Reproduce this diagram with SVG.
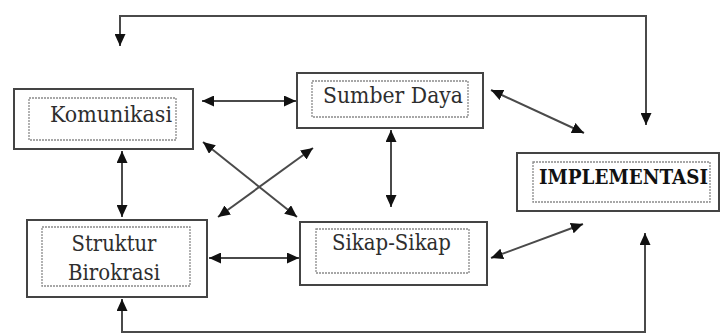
<svg xmlns="http://www.w3.org/2000/svg" width="724" height="335" viewBox="0 0 724 335">
  <style>
    .outer { fill: #ffffff; stroke: #444444; stroke-width: 2; }
    .inner { fill: none; stroke: #8a8a8a; stroke-width: 1.3; stroke-dasharray: 2 1; }
    .lbl { font-family: "DejaVu Serif", "Liberation Serif", serif; font-size: 22px; fill: #2e2e2e; text-anchor: middle; }
    .bold { font-weight: bold; fill: #111111; font-size: 20px; }
    .conn { fill: none; stroke: #4a4a4a; stroke-width: 2; marker-start: url(#ah); marker-end: url(#ah); }
  </style>
  <defs>
    <marker id="ah" markerUnits="userSpaceOnUse" markerWidth="13" markerHeight="11" refX="12" refY="5.5" orient="auto-start-reverse">
      <path d="M0,0 L12,5.5 L0,11 z" fill="#111111"/>
    </marker>
  </defs>
  <rect width="724" height="335" fill="#ffffff"/>

  <g id="connectors">
    <path class="conn" d="M120,46 V16 H646 V125"/>
    <path class="conn" d="M122,299 V332 H645 V233"/>
    <path class="conn" d="M202,101 H296"/>
    <path class="conn" d="M122,151 V217"/>
    <path class="conn" d="M391,130 V207"/>
    <path class="conn" d="M209,258 H299"/>
    <path class="conn" d="M203,142 L297,217"/>
    <path class="conn" d="M218,217 L313,148"/>
    <path class="conn" d="M491,90 L584,133"/>
    <path class="conn" d="M491,258 L583,224"/>
  </g>

  <g id="komunikasi">
    <rect class="outer" x="14" y="89" width="179" height="60"/>
    <rect class="inner" x="29" y="98" width="147" height="42"/>
    <text class="lbl" x="111" y="122" textLength="122" lengthAdjust="spacingAndGlyphs">Komunikasi</text>
  </g>

  <g id="sumber-daya">
    <rect class="outer" x="297" y="73" width="186" height="55"/>
    <rect class="inner" x="312" y="81" width="156" height="36"/>
    <text class="lbl" x="393" y="103" textLength="140" lengthAdjust="spacingAndGlyphs">Sumber Daya</text>
  </g>

  <g id="implementasi">
    <rect class="outer" x="517" y="153" width="202" height="58"/>
    <rect class="inner" x="533" y="162" width="177" height="40"/>
    <text class="lbl bold" x="623.5" y="184" textLength="169" lengthAdjust="spacingAndGlyphs">IMPLEMENTASI</text>
  </g>

  <g id="struktur-birokrasi">
    <rect class="outer" x="27" y="220" width="180" height="77"/>
    <rect class="inner" x="42" y="227" width="148" height="59"/>
    <text class="lbl" x="114" y="251" textLength="85" lengthAdjust="spacingAndGlyphs">Struktur</text>
    <text class="lbl" x="114" y="280" textLength="92" lengthAdjust="spacingAndGlyphs">Birokrasi</text>
  </g>

  <g id="sikap-sikap">
    <rect class="outer" x="300" y="222" width="187" height="63"/>
    <rect class="inner" x="316" y="229" width="153" height="44"/>
    <text class="lbl" x="391.5" y="250" textLength="119" lengthAdjust="spacingAndGlyphs">Sikap-Sikap</text>
  </g>
</svg>
